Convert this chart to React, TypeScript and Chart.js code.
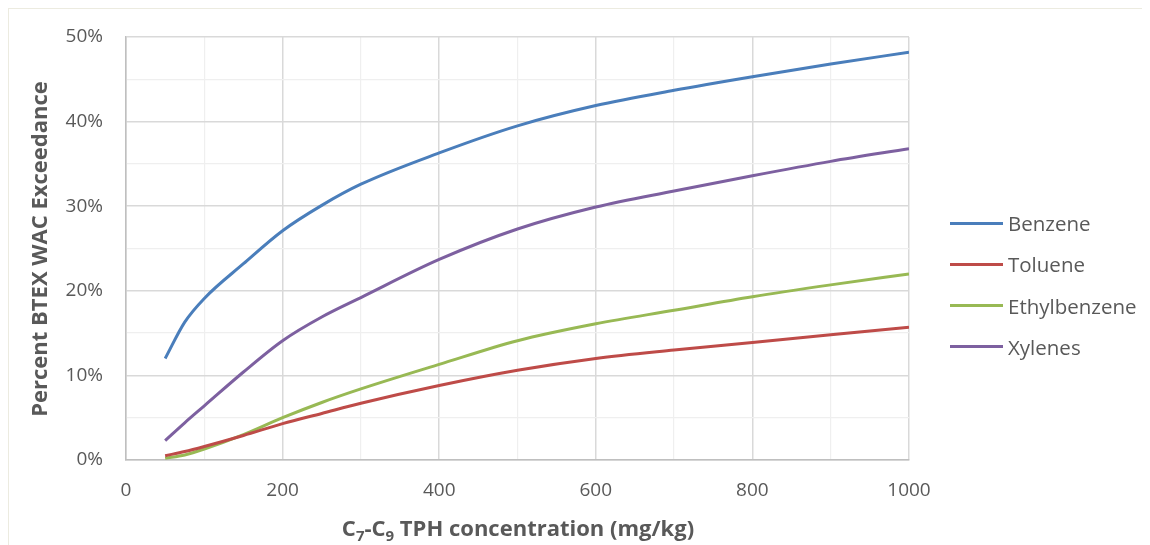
import React, { useEffect, useRef } from "react";
import { Chart, registerables } from "chart.js";

Chart.register(...registerables);

const concentrations = [50, 75, 100, 150, 200, 250, 300, 400, 500, 600, 700, 800, 900, 1000];
const benzene = [12.0, 16.3, 19.1, 23.2, 27.1, 30.1, 32.6, 36.3, 39.5, 41.9, 43.7, 45.3, 46.8, 48.2];
const toluene = [0.5, 1.0, 1.6, 2.9, 4.3, 5.5, 6.7, 8.8, 10.6, 12.0, 13.0, 13.9, 14.8, 15.7];
const ethylbenzene = [0.2, 0.6, 1.3, 3.0, 5.0, 6.8, 8.4, 11.3, 14.1, 16.1, 17.7, 19.3, 20.7, 22.0];
const xylenes = [2.3, 4.4, 6.4, 10.4, 14.1, 16.9, 19.2, 23.7, 27.3, 29.9, 31.8, 33.6, 35.3, 36.8];

const seriesNames = ["Benzene", "Toluene", "Ethylbenzene", "Xylenes"];
const seriesValues = [benzene, toluene, ethylbenzene, xylenes];
const seriesColors = ["#4A7EBB", "#BE4B48", "#98B954", "#7D60A0"];

const yTitle = "Percent BTEX WAC Exceedance";

const FONT = "'Open Sans', 'DejaVu Sans', sans-serif";
const TEXT = "#595959";
const MAJOR = "#d9d9d9";
const MINOR = "#efefef";

export default function App() {
  const ref = useRef<HTMLCanvasElement | null>(null);

  useEffect(() => {
    if (!ref.current) return;
    const chart = new Chart(ref.current, {
      type: "line",
      data: {
        datasets: seriesNames.map((name, i) => ({
          label: name,
          data: concentrations.map((c, j) => ({ x: c, y: seriesValues[i][j] })),
          borderColor: seriesColors[i],
          backgroundColor: seriesColors[i],
          borderWidth: 3,
          pointRadius: 0,
          tension: 0.4,
          cubicInterpolationMode: "monotone" as const,
          fill: false,
        })),
      },
      options: {
        animation: false,
        responsive: false,
        maintainAspectRatio: false,
        layout: { padding: { top: 29, right: 241, left: 0, bottom: 0 } },
        plugins: {
          legend: { display: false },
          tooltip: { enabled: false },
        },
        scales: {
          x: {
            type: "linear",
            min: 0,
            max: 1000,
            afterFit: (s: any) => {
              s.height = 85;
              s.paddingLeft = 0;
              s.paddingRight = 0;
            },
            ticks: {
              stepSize: 100,
              autoSkip: false,
              maxRotation: 0,
              padding: 19,
              color: TEXT,
              font: { family: FONT, size: 19 },
              callback: (v: any) => (Number(v) % 200 === 0 ? String(v) : ""),
            },
            grid: {
              drawTicks: false,
              color: (c: any) => (c.tick && c.tick.value % 200 === 0 ? MAJOR : MINOR),
              lineWidth: (c: any) => (c.tick && c.tick.value % 200 === 0 ? 1.5 : 1.2),
            },
            border: { color: "#bfbfbf", width: 1.5 },
          },
          y: {
            min: 0,
            max: 50,
            afterFit: (s: any) => {
              s.width = 118;
              s.paddingTop = 0;
              s.paddingBottom = 0;
            },
            ticks: {
              stepSize: 5,
              autoSkip: false,
              padding: 23,
              color: TEXT,
              font: { family: FONT, size: 19 },
              callback: (v: any) => (Number(v) % 10 === 0 ? v + "%" : ""),
            },
            grid: {
              drawTicks: false,
              color: (c: any) => (c.tick && c.tick.value % 10 === 0 ? MAJOR : MINOR),
              lineWidth: (c: any) => (c.tick && c.tick.value % 10 === 0 ? 1.5 : 1.2),
            },
            border: { color: "#bfbfbf", width: 1.5 },
          },
        },
      },
    });
    return () => chart.destroy();
  }, []);

  const subStyle = { fontSize: 15, verticalAlign: "-5px", lineHeight: 0 } as const;

  return (
    <div
      style={{
        position: "relative",
        width: 1142,
        height: 537,
        borderTop: "1px solid #ecebe0",
        borderLeft: "1px solid #ecebe0",
        boxSizing: "border-box",
        background: "#fff",
        fontFamily: FONT,
        color: TEXT,
      }}
    >
      <canvas
        ref={ref}
        width={1142}
        height={537}
        style={{ position: "absolute", left: -1, top: -1, width: 1142, height: 537 }}
      />
      <div
        style={{
          position: "absolute",
          left: 29 - 250,
          top: 240 - 15,
          width: 500,
          height: 30,
          lineHeight: "30px",
          textAlign: "center",
          transform: "rotate(-90deg)",
          fontWeight: 700,
          fontSize: 22,
          whiteSpace: "nowrap",
        }}
      >
        {yTitle}
      </div>
      <div
        style={{
          position: "absolute",
          left: 509 - 300,
          top: 503,
          width: 600,
          textAlign: "center",
          fontWeight: 700,
          fontSize: 22,
          whiteSpace: "nowrap",
          lineHeight: "30px",
        }}
      >
        C<sub style={subStyle}>7</sub>-C<sub style={subStyle}>9</sub> TPH concentration (mg/kg)
      </div>
      {seriesNames.map((name, i) => (
        <div
          key={name}
          style={{
            position: "absolute",
            left: 941,
            top: 214 - 15 + i * 41.3,
            height: 30,
            display: "flex",
            alignItems: "center",
            fontSize: 20.5,
            whiteSpace: "nowrap",
          }}
        >
          <span
            style={{
              display: "inline-block",
              width: 53,
              height: 3,
              background: seriesColors[i],
              marginRight: 5,
            }}
          />
          {name}
        </div>
      ))}
    </div>
  );
}
